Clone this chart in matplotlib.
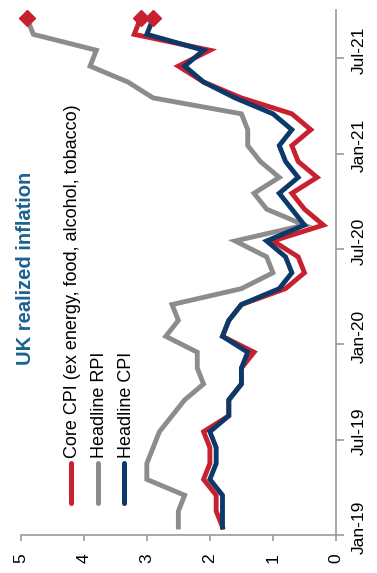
import matplotlib
matplotlib.use('Agg')
import matplotlib.pyplot as plt
from matplotlib.ticker import FixedLocator, FixedFormatter, NullFormatter
from matplotlib.lines import Line2D

plt.rcParams['font.family'] = ['Liberation Sans', 'DejaVu Sans']

# ---- data (monthly, Jan-2019 .. Sep-2021) ----
series_names = ['Core CPI (ex energy, food, alcohol, tobacco)', 'Headline RPI', 'Headline CPI']
core_cpi = [1.8, 1.9, 1.9, 2.1, 2.0, 2.0, 2.1, 1.7, 1.7, 1.5, 1.5, 1.3,
            1.8, 1.7, 1.5, 0.8, 0.5, 0.6, 1.0, 0.2, 0.5, 0.7, 0.3, 0.6,
            0.7, 0.4, 0.7, 1.5, 2.1, 2.5, 2.0, 3.2, 3.1]
headline_rpi = [2.5, 2.5, 2.4, 3.0, 3.0, 2.9, 2.8, 2.6, 2.4, 2.1, 2.2, 2.2,
                2.7, 2.5, 2.6, 1.5, 1.0, 1.1, 1.6, 0.5, 1.1, 1.3, 0.9, 1.2,
                1.4, 1.4, 1.5, 2.9, 3.3, 3.9, 3.8, 4.8, 4.9]
headline_cpi = [1.8, 1.8, 1.8, 2.0, 1.9, 1.9, 2.0, 1.7, 1.7, 1.5, 1.5, 1.4,
                1.8, 1.7, 1.5, 0.9, 0.7, 0.8, 1.1, 0.5, 0.7, 0.9, 0.6, 0.8,
                0.9, 0.7, 1.0, 1.6, 2.1, 2.4, 2.1, 3.0, 2.9]
date_tick_labels = ['Jan-19', 'Jul-19', 'Jan-20', 'Jul-20', 'Jan-21', 'Jul-21']
date_tick_months = [0, 6, 12, 18, 24, 30]
value_ticks = [0, 1, 2, 3, 4, 5]
title = 'UK realized inflation'

colors = ['#C8202F', '#8C8C8C', '#0B3A6A']
W, H = 377, 573

def fx(px):
    return px / W

def fy(py):
    return 1 - py / H

fig = plt.figure(figsize=(W / 100, H / 100), dpi=100)
ax = fig.add_axes([fx(20.7), fy(535), fx(336) - fx(20.7), fy(10.5) - fy(535)])

months = list(range(len(core_cpi)))
data = [core_cpi, headline_rpi, headline_cpi]
zorders = [3, 2, 4]
for vals, c, z in zip(data, colors, zorders):
    ax.plot(vals, months, color=c, lw=3.5, solid_joinstyle='miter', zorder=z)
    ax.plot([vals[-1]], [months[-1]], marker='D', ms=8, color='#C8202F',
            mec='#C8202F', zorder=6, clip_on=False)

ax.set_xlim(5, 0)
ax.set_ylim(-0.5, len(core_cpi) - 0.5)

for s in ['left', 'top']:
    ax.spines[s].set_visible(False)
for s in ['right', 'bottom']:
    ax.spines[s].set_color('#9A9A9A')
    ax.spines[s].set_linewidth(1.2)

# value axis (bottom in picture)
ax.xaxis.set_major_locator(FixedLocator(value_ticks))
ax.tick_params(axis='x', which='major', length=4, width=1.2, color='#9A9A9A',
               direction='out', labelsize=12.5, pad=9, labelrotation=90)

# date axis (right in picture)
ax.yaxis.tick_right()
ax.yaxis.set_major_locator(FixedLocator([m - 0.5 for m in date_tick_months]))
ax.yaxis.set_major_formatter(NullFormatter())
ax.yaxis.set_minor_locator(FixedLocator(date_tick_months))
ax.yaxis.set_minor_formatter(FixedFormatter(date_tick_labels))
ax.tick_params(axis='y', which='major', length=6, width=1.2, color='#9A9A9A', direction='out')
ax.tick_params(axis='y', which='minor', length=0, labelsize=12.5, pad=11, labelrotation=90)
for lbl in ax.get_yticklabels(minor=True):
    lbl.set_va('center')

# legend (rotated, drawn manually)
leg_x = [70.7, 97.7, 124.3]
for name, c, x in zip(series_names, colors, leg_x):
    fig.add_artist(Line2D([fx(x), fx(x)], [fy(503), fy(463)], color=c, lw=3.6,
                          solid_capstyle='round', transform=fig.transFigure))
    fig.text(fx(x + 6.5), fy(458), name, rotation=90, rotation_mode='anchor',
             ha='left', va='baseline', fontsize=13, color='black')

fig.text(fx(31.2), fy(365), title, rotation=90, rotation_mode='anchor',
         ha='left', va='baseline', fontsize=14.5, fontweight='bold', color='#1A6291')

fig.savefig('out.png', dpi=100)
